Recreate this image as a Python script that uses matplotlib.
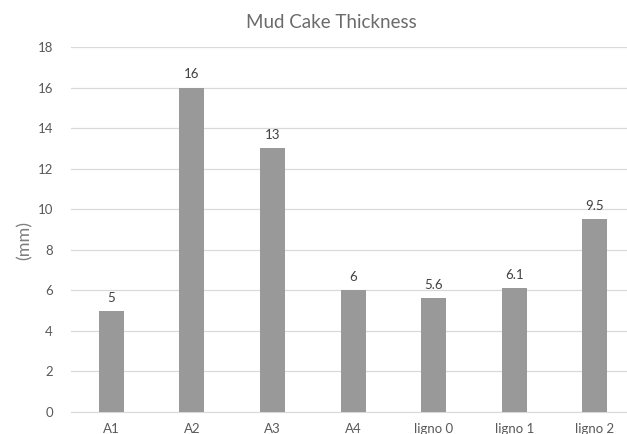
import matplotlib
matplotlib.use('Agg')
import matplotlib.pyplot as plt

categories = ['A1', 'A2', 'A3', 'A4', 'ligno 0', 'ligno 1', 'ligno 2']
thickness = [5, 16, 13, 6, 5.6, 6.1, 9.5]
value_labels = ['5', '16', '13', '6', '5.6', '6.1', '9.5']

plt.rcParams['font.family'] = ['Lato', 'DejaVu Sans']

W, H = 627, 434
fig = plt.figure(figsize=(W / 100, H / 100), dpi=100)
ax = fig.add_axes([71 / W, (H - 412) / H, (W - 71) / W, (412 - 47) / H])

x = list(range(len(categories)))
ax.bar(x, thickness, width=0.31, color='#999999', zorder=3)
for xi, v, lab in zip(x, thickness, value_labels):
    ax.text(xi, v + 0.35, lab, ha='center', va='bottom', fontsize=9.5, color='#404040')

ax.set_xlim(-0.5, 6.4)
ax.set_ylim(0, 18)
ax.set_yticks(range(0, 19, 2))
ax.set_xticks(x)
ax.set_xticklabels(categories)
ax.yaxis.grid(True, color='#d9d9d9', linewidth=0.9, zorder=0)
for s in ['top', 'right', 'left']:
    ax.spines[s].set_visible(False)
ax.spines['bottom'].set_color('#d9d9d9')
ax.tick_params(axis='both', length=0, labelsize=9.5, labelcolor='#595959')
ax.tick_params(axis='x', pad=8)
ax.tick_params(axis='y', pad=13)

fig.text(331 / W, 1 - 22 / H, 'Mud Cake Thickness', ha='center', va='center',
         fontsize=13.5, color='#6b6b6b')
fig.text(25 / W, 1 - 240 / H, '(mm)', rotation=90, ha='center', va='center',
         fontsize=13, color='#7f7f7f')

fig.savefig('out.png', dpi=100)
